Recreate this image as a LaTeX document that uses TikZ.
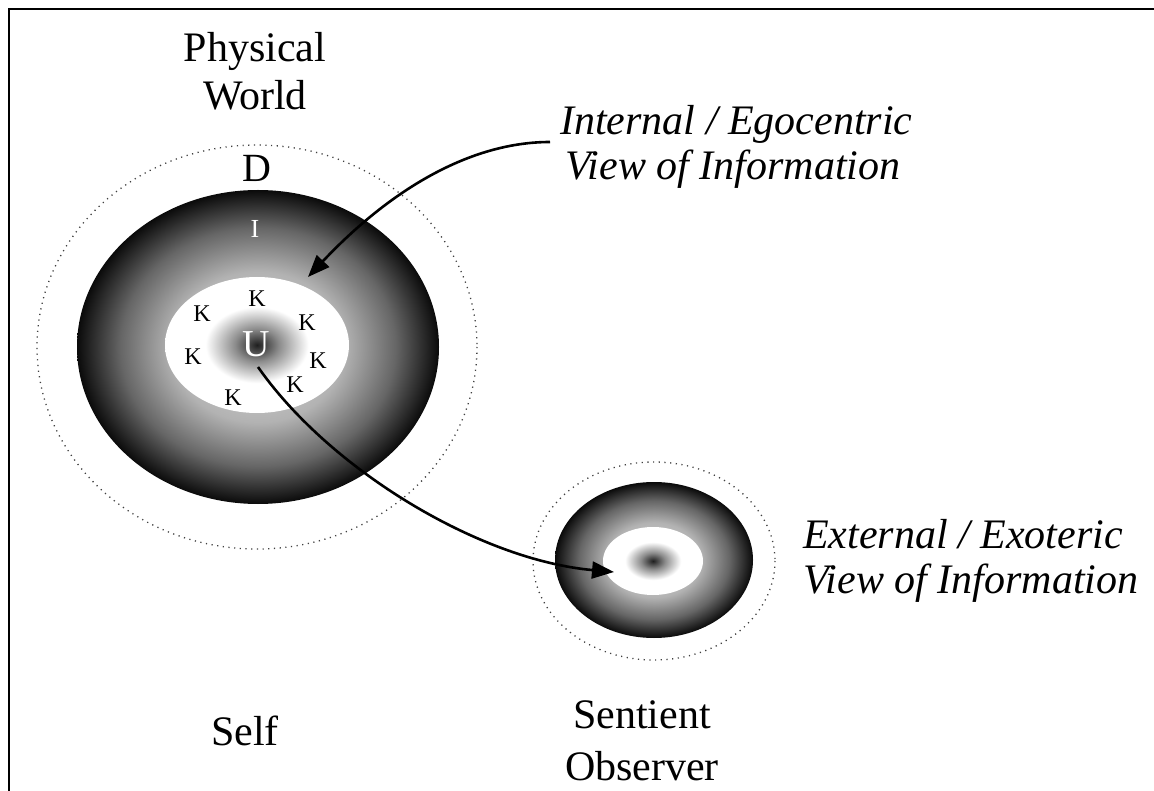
\documentclass[tikz,border=0pt]{standalone}
\usepackage{fontspec}
\setmainfont{Liberation Serif}
\usetikzlibrary{arrows.meta}

\definecolor{ringlight}{gray}{0.86}
\definecolor{ringmid}{gray}{0.70}
\definecolor{ringdeep}{gray}{0.40}
\definecolor{ringrim}{gray}{0.04}
\definecolor{coredark}{gray}{0.12}
\definecolor{coremid}{gray}{0.55}
\definecolor{dotgray}{gray}{0.25}

% outer ring: light towards the middle, black at the rim
\pgfdeclareradialshading{ringshade}{\pgfpoint{0bp}{0bp}}{%
  color(0bp)=(ringlight); color(12bp)=(ringmid); color(19bp)=(ringdeep); color(25bp)=(ringrim); color(50bp)=(ringrim)}
% core: dark centre fading to white
\pgfdeclareradialshading{coreshade}{\pgfpoint{0bp}{0bp}}{%
  color(0bp)=(coredark); color(6bp)=(coremid); color(14bp)=(white); color(25bp)=(white); color(50bp)=(white)}

\tikzset{
  big/.style={font=\fontsize{42}{50}\selectfont, anchor=base, inner sep=0pt},
  ital/.style={font=\fontsize{42}{50}\selectfont\itshape, anchor=base west, inner sep=0pt},
  kmark/.style={font=\fontsize{24}{28}\selectfont, anchor=base, inner sep=0pt},
  halo/.style={draw=dotgray, line width=1.3pt, dash pattern=on 1.2pt off 4.5pt},
  pointer/.style={line width=2.6pt, -{Triangle[length=22pt,width=17pt]}},
  frame/.style={line width=2pt}
}

\begin{document}
\begin{tikzpicture}[x=1pt,y=-1pt]
\useasboundingbox (0,0) rectangle (1154,791);

% frame (top and left edges)
\draw[frame] (1154,9) -- (9,9) -- (9,791);

% ---------- Self ----------
\draw[halo] (257,347) ellipse [x radius=220, y radius=202];
\shade[shading=ringshade] (258,347) ellipse [x radius=181, y radius=157];
\shade[shading=coreshade] (257,345) ellipse [x radius=92, y radius=68];

\node[big, font=\fontsize{40}{48}\selectfont] (D) at (257,182) {D};
\node[kmark, white, font=\fontsize{26}{30}\selectfont] (I) at (255,238) {I};
\node[big, white, font=\fontsize{38}{44}\selectfont] (U) at (256,357) {U};

\node[kmark] (k1) at (257,307) {K};
\node[kmark] (k2) at (202,322) {K};
\node[kmark] (k3) at (307,331) {K};
\node[kmark] (k4) at (193,365) {K};
\node[kmark] (k5) at (318,369) {K};
\node[kmark] (k6) at (295,392) {K};
\node[kmark] (k7) at (233,406) {K};

% ---------- Sentient observer ----------
\draw[halo] (654,561) ellipse [x radius=121, y radius=99];
\shade[shading=ringshade] (654,560) ellipse [x radius=99, y radius=78];
\shade[shading=coreshade] (653,561) ellipse [x radius=50, y radius=34];

% ---------- labels ----------
\node[big] (pw1) at (255,62) {Physical};
\node[big] (pw2) at (255,110) {World};
\node[big] (self) at (245,745) {Self};
\node[big] (so1) at (642,728) {Sentient};
\node[big] (so2) at (642,780) {Observer};

\node[ital] (int1) at (560,135) {Internal / Egocentric};
\node[ital] (int2) at (565,180) {View of Information};
\node[ital] (ext1) at (803,548) {External / Exoteric};
\node[ital] (ext2) at (803,593) {View of Information};

% ---------- arrows ----------
\coordinate (intstart) at (550,142);
\coordinate (inttip) at (308,277);
\coordinate (Ufoot) at (258,367);
\coordinate (exttip) at (614,572);

\draw[pointer] (intstart) .. controls (470,142) and (390,190) .. (inttip);
\draw[pointer] (Ufoot) .. controls (330,470) and (480,560) .. (exttip);
\end{tikzpicture}
\end{document}
